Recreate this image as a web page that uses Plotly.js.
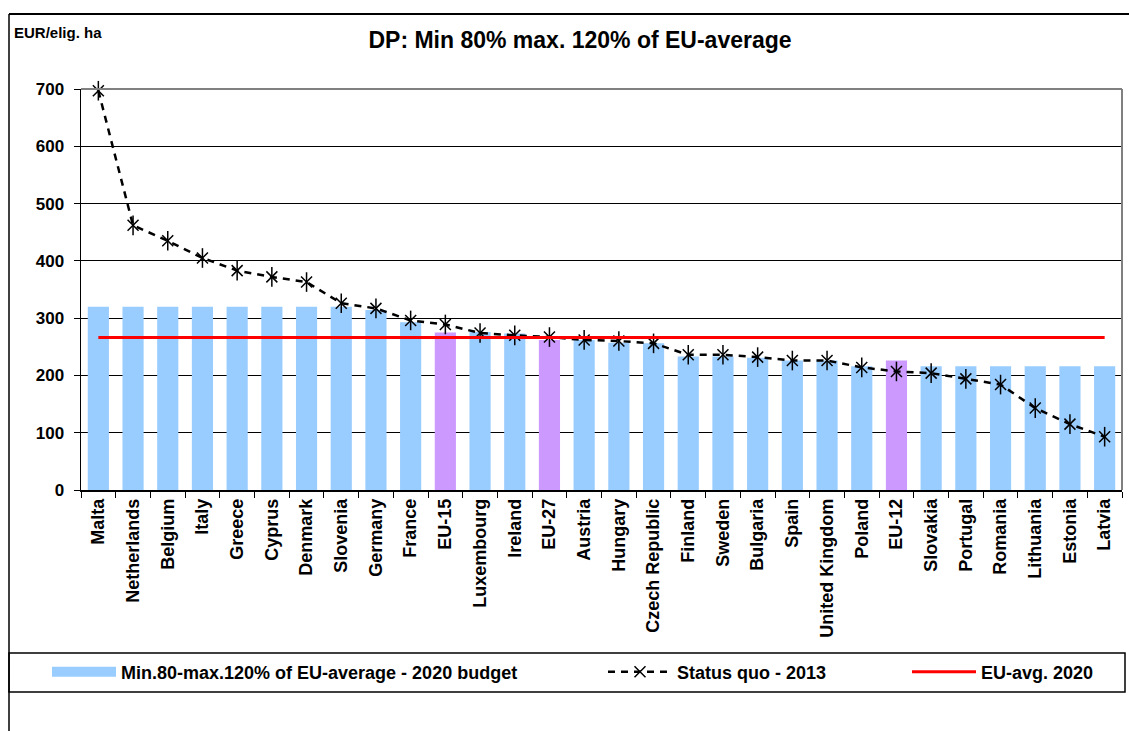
<!DOCTYPE html>
<html>
<head>
<meta charset="utf-8">
<script src="https://cdn.plot.ly/plotly-3.0.1.min.js"></script>
<style>
  html, body { margin: 0; padding: 0; background: #fff; }
  #chart { width: 1129px; height: 731px; }
</style>
</head>
<body>
<div id="chart"></div>
<script>
// Countries, sorted by the 2013 status quo
const countries = ['Malta', 'Netherlands', 'Belgium', 'Italy', 'Greece', 'Cyprus', 'Denmark',
  'Slovenia', 'Germany', 'France', 'EU-15', 'Luxembourg', 'Ireland', 'EU-27', 'Austria',
  'Hungary', 'Czech Republic', 'Finland', 'Sweden', 'Bulgaria', 'Spain', 'United Kingdom',
  'Poland', 'EU-12', 'Slovakia', 'Portugal', 'Romania', 'Lithuania', 'Estonia', 'Latvia'];

// Min.80-max.120% of EU-average - 2020 budget (EUR/elig. ha)
const budget2020 = [320, 320, 320, 320, 320, 320, 320,
  320, 314, 293, 275, 276, 273, 262, 262,
  257, 256, 233, 233, 231, 226, 226,
  216, 226, 216, 216, 216, 216, 216, 216];

// Status quo - 2013
const statusQuo2013 = [697, 462, 435, 405, 383, 372, 363,
  326, 317, 296, 289, 274, 270, 267, 262,
  260, 256, 236, 236, 232, 226, 226,
  214, 207, 204, 194, 184, 143, 115, 93];

// EU-avg. 2020
const euAvg2020 = 266;

const aggregates = ['EU-15', 'EU-27', 'EU-12'];

const barColors = countries.map(c => aggregates.includes(c) ? '#CC99FF' : '#99CCFF');
const font = 'Liberation Sans, Arial, sans-serif';

// plot area in pixels: x 81..1122, y 89..490
const px = x => (x - 81) / 1041;
const py = y => (490 - y) / 401;

let bars = {
  type: 'bar',
  x: countries,
  y: budget2020,
  name: 'Min.80-max.120% of EU-average - 2020 budget',
  marker: { color: barColors, line: { width: 0 } },
  showlegend: false
};

// legend entry for the bars (wide swatch like the original)
let barsKey = {
  type: 'scatter',
  mode: 'lines',
  x: [null],
  y: [null],
  name: 'Min.80-max.120% of EU-average - 2020 budget',
  line: { color: '#99CCFF', width: 10 },
  legend: 'legend'
};

let quo = {
  type: 'scatter',
  mode: 'lines+markers',
  x: countries,
  y: statusQuo2013,
  name: 'Status quo - 2013',
  line: { color: '#000', width: 2.5, dash: '7px,6px' },
  marker: { symbol: 'x-thin-open', size: 11, color: '#000', line: { color: '#000', width: 1.5 } },
  cliponaxis: false,
  legend: 'legend2'
};

// vertical stroke of the star markers
let quoStar = {
  type: 'scatter',
  mode: 'markers',
  x: countries,
  y: statusQuo2013,
  marker: { symbol: 'line-ns-open', size: 14, color: '#000', line: { color: '#000', width: 1.5 } },
  cliponaxis: false,
  showlegend: false,
  hoverinfo: 'skip'
};

let avg = {
  type: 'scatter',
  mode: 'lines',
  x: [countries[0], countries[countries.length - 1]],
  y: [euAvg2020, euAvg2020],
  name: 'EU-avg. 2020',
  line: { color: '#FF0000', width: 3 },
  legend: 'legend3'
};

const legendBase = {
  orientation: 'h',
  yanchor: 'middle',
  y: py(672),
  xanchor: 'left',
  itemwidth: 64,
  bgcolor: 'rgba(0,0,0,0)',
  borderwidth: 0,
  font: { family: font, size: 18, color: '#000', weight: 'bold' }
};

let layout = {
  width: 1129,
  height: 731,
  margin: { l: 81, r: 7, t: 89, b: 241 },
  paper_bgcolor: '#fff',
  plot_bgcolor: '#fff',
  bargap: 0.39,
  title: {
    text: '<b>DP: Min 80% max. 120% of EU-average</b>',
    font: { family: font, size: 23, color: '#000' },
    xref: 'paper', x: px(580), xanchor: 'center',
    yref: 'container', y: 1 - 40 / 731, yanchor: 'middle'
  },
  xaxis: {
    type: 'category',
    range: [-0.5, countries.length - 0.5],
    tickangle: -90,
    tickson: 'boundaries',
    ticks: 'outside',
    ticklen: 6,
    tickcolor: '#000',
    showline: true,
    linecolor: '#000',
    linewidth: 1.5,
    showgrid: false,
    tickfont: { family: font, size: 18, color: '#000', weight: 'bold' }
  },
  yaxis: {
    range: [0, 700],
    dtick: 100,
    ticks: 'outside',
    ticklen: 6,
    tickcolor: '#000',
    showline: true,
    linecolor: '#000',
    linewidth: 1.5,
    gridcolor: '#000',
    gridwidth: 1,
    zeroline: false,
    ticklabelstandoff: 6,
    tickfont: { family: font, size: 17, color: '#000', weight: 'bold' }
  },
  showlegend: true,
  legend: Object.assign({}, legendBase, { x: px(47) }),
  legend2: Object.assign({}, legendBase, { x: px(603) }),
  legend3: Object.assign({}, legendBase, { x: px(907) }),
  annotations: [{
    text: '<b>EUR/elig. ha</b>',
    xref: 'paper', yref: 'paper',
    x: px(12), y: py(32),
    xanchor: 'left', yanchor: 'middle',
    showarrow: false,
    font: { family: font, size: 15, color: '#000' }
  }],
  shapes: [
    // plot area border (top and right, grey)
    { type: 'line', xref: 'paper', yref: 'paper', x0: 0, x1: 1, y0: 1, y1: 1, line: { color: '#808080', width: 2 } },
    { type: 'line', xref: 'paper', yref: 'paper', x0: 1, x1: 1, y0: 0, y1: 1, line: { color: '#808080', width: 2 } },
    // outer chart frame
    { type: 'line', xref: 'paper', yref: 'paper', x0: px(9), x1: px(9), y0: py(14), y1: py(740), line: { color: '#000', width: 1.5 } },
    { type: 'line', xref: 'paper', yref: 'paper', x0: px(9), x1: px(1135), y0: py(14), y1: py(14), line: { color: '#000', width: 2 } },
    // legend box
    { type: 'rect', xref: 'paper', yref: 'paper', x0: px(9), x1: px(1125), y0: py(692), y1: py(653), line: { color: '#000', width: 1.5 } }
  ]
};

Plotly.newPlot('chart', [bars, barsKey, quo, quoStar, avg], layout, { displayModeBar: false, staticPlot: true });
</script>
</body>
</html>
